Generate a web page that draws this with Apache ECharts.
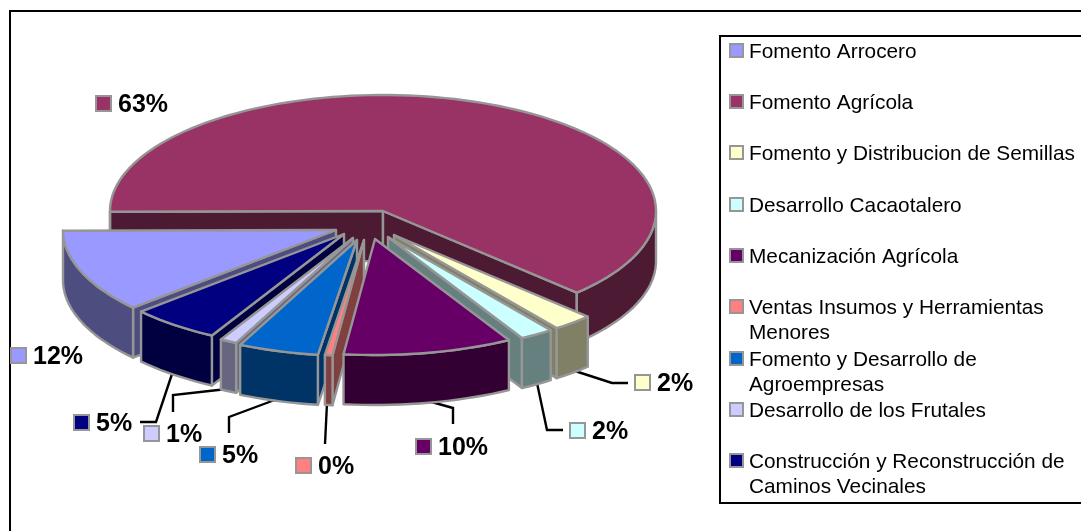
<!DOCTYPE html>
<html><head><meta charset="utf-8">
<style>html,body{margin:0;padding:0;background:#fff}#c{width:1081px;height:531px}</style>
<script src="https://cdn.jsdelivr.net/npm/echarts@6/dist/echarts.min.js"></script>
</head><body><div id="c"></div>
<script>
// ---- data ----
const categories = ['Fomento Arrocero','Fomento Agrícola','Fomento y Distribucion de Semillas','Desarrollo Cacaotalero','Mecanización Agrícola','Ventas Insumos y Herramientas Menores','Fomento y Desarrollo de Agroempresas','Desarrollo de los Frutales','Construcción y Reconstrucción de Caminos Vecinales'];
const shares = [11.55, 62.55, 2.4, 2.0, 10.0, 0.45, 4.75, 1.0, 5.3];
// ---- styles ----
const topColors  = ['#9999FF','#993366','#FFFFCC','#CCFFFF','#660066','#FF8080','#0066CC','#CCCCFF','#000080'];
const wallColors = ['#4D4D80','#4D1A33','#808066','#668080','#330033','#804040','#003366','#666680','#000040'];
const EDGE = '#969696';
// ---- layout of the exploded 3-D pie ----
const START_ANGLE = 269.6 - 41.58;
const RX = 273, RY = 116, DEPTH = 50;
const pieCentres = [[336,230],[383,211],[394,235],[388,237],[375,239],[364,240],[357,240],[353,238],[344,234]];
const paintRank  = [1,0,6,7,8,5,4,3,2];
const legendRows = [51,102,153,205,256,307,359,410,461];
const labelKeys  = [[10,347],[95,95],[634,374],[569,422],[415,438],[295,457],[199,446],[143,425],[73,414]];
const leaders = [null,null,
  [[575,371],[612,383],[628,383]],
  [[537,383],[547,430],[563,430]],
  [[428,401],[453,408],[453,424]],
  [[327,403],[325,444]],
  [[280,398],[229,417],[229,433]],
  [[227,389],[173,395],[173,412]],
  [[172,374],[156,422],[140,422]]];

const total = shares.reduce((a,b)=>a+b,0);
const FONT = '"Liberation Sans", Arial, sans-serif';
const LEGEND_FONT = '20.8px '+FONT, LEGEND_WIDTH = 328, LEGEND_LINE = 25;
let run = 0;
const seriesData = shares.map((v,i)=>{ const d={name:categories[i],value:[run,v]}; run+=v; return d; });
const map = s => echarts.number.linearMap(s,[0,total],[START_ANGLE,START_ANGLE+360]);

function pt(c,deg,rx,ry,dz){ const a=deg*Math.PI/180; return [c[0]+rx*Math.sin(a), c[1]-ry*Math.cos(a)+(dz||0)]; }
function arc(c,a,b,dz){ const n=Math.max(2,Math.ceil(Math.abs(b-a)/2)), out=[]; for(let k=0;k<=n;k++) out.push(pt(c,a+(b-a)*k/n,RX,RY,dz)); return out; }

function renderSlice(params, api){
  const i=params.dataIndex, s=api.value(0), v=api.value(1);
  const a=map(s), b=map(s+v), c=pieCentres[i], base=paintRank[i]*10;
  const sty=f=>({fill:f,stroke:EDGE,lineWidth:2.4,lineJoin:'round'});
  const poly=(points,f,z)=>({type:'polygon',shape:{points},style:sty(f),z2:base+z});
  const sin=d=>Math.sin(d*Math.PI/180);
  const kids=[];
  const radialWall=d=>{ const o=pt(c,d,RX,RY); return [c,o,[o[0],o[1]+DEPTH],[c[0],c[1]+DEPTH]]; };
  if(sin(a)<0) kids.push(poly(radialWall(a),wallColors[i],1));
  if(sin(b)>0) kids.push(poly(radialWall(b),wallColors[i],1));
  // outer wall: only where the rim faces the viewer (90..270, modulo 360)
  for(let k=0;k<2;k++){
    const lo=Math.max(a,90+360*k), hi=Math.min(b,270+360*k);
    if(hi>lo) kids.push(poly(arc(c,lo,hi,0).concat(arc(c,hi,lo,DEPTH)),wallColors[i],2));
  }
  kids.push(poly([c].concat(arc(c,a,b,0)),topColors[i],3));
  return {type:'group',children:kids};
}

// word wrap for the legend names, measured with the real font
const measure=document.createElement('canvas').getContext('2d');
measure.font=LEGEND_FONT;
function wrap(name){
  const lines=[]; let cur='';
  name.split(' ').forEach(w=>{
    const t=cur?cur+' '+w:w;
    if(cur && measure.measureText(t).width>LEGEND_WIDTH){ lines.push(cur); cur=w; } else cur=t;
  });
  lines.push(cur); return lines;
}

const graphics=[];
// outer frame and legend frame (both run past the right edge of the picture)
graphics.push({type:'polyline',shape:{points:[[10,531],[10,11],[1081,11]]},style:{stroke:'#000',lineWidth:2,fill:null},silent:true});
graphics.push({type:'polyline',shape:{points:[[1081,36],[720,36],[720,503],[1081,503]]},style:{stroke:'#000',lineWidth:2,fill:null},silent:true});
categories.forEach((name,i)=>{
  const y=legendRows[i];
  graphics.push({type:'rect',shape:{x:730,y:y-7,width:13,height:13},style:{fill:topColors[i],stroke:EDGE,lineWidth:2}});
  wrap(name).forEach((line,j)=>{
    graphics.push({type:'text',x:749,y:y+1+j*LEGEND_LINE,style:{text:line,font:LEGEND_FONT,fill:'#000',verticalAlign:'middle',align:'left'}});
  });
  const k=labelKeys[i];
  graphics.push({type:'rect',shape:{x:k[0]+1,y:k[1]+1,width:15,height:15},style:{fill:topColors[i],stroke:EDGE,lineWidth:2}});
  graphics.push({type:'text',x:k[0]+23,y:k[1]+10.5,style:{text:Math.round(shares[i]/total*100)+'%',font:'bold 25px '+FONT,fill:'#000',verticalAlign:'middle',align:'left'}});
  if(leaders[i]) graphics.push({type:'polyline',shape:{points:leaders[i]},style:{stroke:'#000',lineWidth:2.4,fill:null}});
});

const chart=echarts.init(document.getElementById('c'),null,{renderer:'canvas'});
chart.setOption({
  animation:false,
  backgroundColor:'#fff',
  series:[{type:'custom',coordinateSystem:'none',renderItem:renderSlice,data:seriesData,silent:true,clip:false}],
  graphic:graphics
});
</script></body></html>
